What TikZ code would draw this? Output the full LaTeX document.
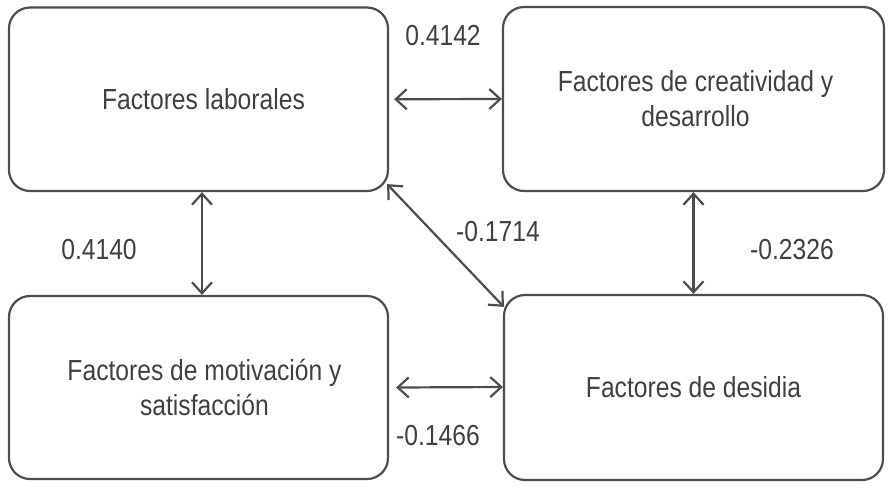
\documentclass[tikz,border=0pt]{standalone}
\usepackage{fontspec}
\setmainfont[FakeStretch=0.85]{Liberation Sans}
\usetikzlibrary{arrows.meta}
\definecolor{txt}{HTML}{404040}
\definecolor{ln}{HTML}{4D4D4D}
\begin{document}
\begin{tikzpicture}[x=1pt,y=-1pt,
  box/.style={draw=ln, line width=2.2pt, rounded corners=21pt, text=txt,
    align=center, font=\fontsize{29}{35}\selectfont, inner sep=0pt},
  lbl/.style={text=txt, font=\fontsize{29}{35}\selectfont, inner sep=0pt},
  conn/.style={draw=ln, line width=2.2pt, {Straight Barb[length=11pt,width=20pt,line width=2.2pt]}-{Straight Barb[length=11pt,width=20pt,line width=2.2pt]}}]
\useasboundingbox (0,0) rectangle (891,491);
\node[box, minimum width=379pt, minimum height=183.5pt] (tl) at (198.5,99.25) {\hspace*{10pt}Factores laborales};
\node[box, minimum width=381pt, minimum height=184pt] (tr) at (693.5,99) {\hspace*{4pt}Factores de creatividad y\\\hspace*{4pt}desarrollo};
\node[box, minimum width=379pt, minimum height=183pt] (bl) at (198.5,387.5) {\hspace*{12pt}Factores de motivación y\\\hspace*{12pt}satisfacción};
\node[box, minimum width=379pt, minimum height=185pt] (br) at (693.5,387.5) {Factores de desidia};
\draw[conn] ([xshift=5pt]tl.east) -- (tr.west);
\draw[conn] ([xshift=7pt]bl.east) -- ([yshift=0.5pt]br.west);
\draw[conn] ([xshift=3.5pt]tl.south) -- ([xshift=3.5pt]bl.north);
\draw[conn] (tr.south) -- (br.north);
\draw[conn] ([xshift=-2pt,yshift=8pt]tl.south east) -- ([xshift=1pt,yshift=-13pt]br.north west);
\node[lbl] (l1) at (443,36) {0.4142};
\node[lbl] (l2) at (99,250) {0.4140};
\node[lbl] (l3) at (498,232) {-0.1714};
\node[lbl] (l4) at (792,249.5) {-0.2326};
\node[lbl] (l5) at (438,435.5) {-0.1466};
\end{tikzpicture}
\end{document}
